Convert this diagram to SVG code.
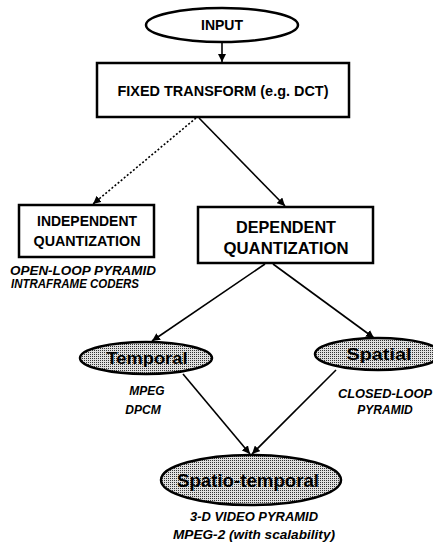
<svg xmlns="http://www.w3.org/2000/svg" width="433" height="548" viewBox="0 0 433 548">
<style>
.box{fill:#fff;stroke:#000;stroke-width:2.5}
.ell{stroke:#000;stroke-width:2.5}
.t{font-family:"Liberation Sans",Arial,sans-serif;font-weight:bold;fill:#000;text-anchor:middle}
.lab{font-family:"Liberation Sans",Arial,sans-serif;font-weight:bold;font-style:italic;font-size:12px;fill:#000;text-anchor:middle}
.c{stroke:#000;stroke-width:1.6;fill:none}
.d{stroke:#000;stroke-width:1.6;fill:none;stroke-dasharray:2 2}
</style>
<defs>
<pattern id="stip" width="2" height="2" patternUnits="userSpaceOnUse">
<rect width="2" height="2" fill="#e0e0e0"/>
<rect width="1" height="1" fill="#333"/>
</pattern>
<marker id="ah" viewBox="0 0 10 10" refX="10" refY="5" markerWidth="5" markerHeight="5" orient="auto" markerUnits="strokeWidth">
<path d="M0,0 L10,5 L0,10 z" fill="#000"/>
</marker>
</defs>
<g id="connectors">
<line class="c" x1="222" y1="42" x2="222" y2="62" marker-end="url(#ah)"/>
<line class="d" x1="196" y1="118" x2="93" y2="204" marker-end="url(#ah)"/>
<line class="c" x1="199" y1="118" x2="285" y2="206" marker-end="url(#ah)"/>
<line class="c" x1="265" y1="264" x2="152" y2="341" marker-end="url(#ah)"/>
<line class="c" x1="273" y1="264" x2="374" y2="338" marker-end="url(#ah)"/>
<line class="c" x1="183" y1="374" x2="250" y2="454" marker-end="url(#ah)"/>
<line class="c" x1="336" y1="370" x2="252" y2="454" marker-end="url(#ah)"/>
</g>
<g id="input">
<ellipse cx="222" cy="25" rx="76" ry="17" fill="#fff" class="ell"/>
<text class="t" x="222" y="30" font-size="14">INPUT</text>
</g>
<g id="fixed-transform">
<rect class="box" x="97" y="63" width="252" height="54"/>
<text class="t" x="223" y="96" font-size="14" textLength="211" lengthAdjust="spacingAndGlyphs">FIXED TRANSFORM (e.g. DCT)</text>
</g>
<g id="independent">
<rect class="box" x="19" y="205" width="135" height="52"/>
<text class="t" x="87" y="226" font-size="14" textLength="100" lengthAdjust="spacingAndGlyphs">INDEPENDENT</text>
<text class="t" x="87" y="246" font-size="14" textLength="107" lengthAdjust="spacingAndGlyphs">QUANTIZATION</text>
<text class="lab" x="83" y="275" textLength="146" lengthAdjust="spacingAndGlyphs">OPEN-LOOP PYRAMID</text>
<text class="lab" x="75" y="288" textLength="128" lengthAdjust="spacingAndGlyphs">INTRAFRAME CODERS</text>
</g>
<g id="dependent">
<rect class="box" x="198" y="207" width="175" height="56"/>
<text class="t" x="286" y="233" font-size="17" textLength="100" lengthAdjust="spacingAndGlyphs">DEPENDENT</text>
<text class="t" x="286" y="254" font-size="17" textLength="125" lengthAdjust="spacingAndGlyphs">QUANTIZATION</text>
</g>
<g id="temporal">
<ellipse cx="146" cy="358" rx="66" ry="16" fill="url(#stip)" class="ell"/>
<text class="t" x="147" y="364" font-size="17" textLength="81" lengthAdjust="spacingAndGlyphs">Temporal</text>
<text class="lab" x="147" y="395">MPEG</text>
<text class="lab" x="143" y="414">DPCM</text>
</g>
<g id="spatial">
<ellipse cx="378" cy="354" rx="63" ry="16" fill="url(#stip)" class="ell"/>
<text class="t" x="379" y="360" font-size="17" textLength="65" lengthAdjust="spacingAndGlyphs">Spatial</text>
<text class="lab" x="385" y="398" textLength="94" lengthAdjust="spacingAndGlyphs">CLOSED-LOOP</text>
<text class="lab" x="385" y="414">PYRAMID</text>
</g>
<g id="spatio-temporal">
<ellipse cx="251" cy="480" rx="90" ry="25" fill="url(#stip)" class="ell"/>
<text class="t" x="248" y="487" font-size="19" textLength="142" lengthAdjust="spacingAndGlyphs">Spatio-temporal</text>
<text class="lab" x="254" y="521" textLength="128" lengthAdjust="spacingAndGlyphs">3-D VIDEO PYRAMID</text>
<text class="lab" x="254" y="539" textLength="162" lengthAdjust="spacingAndGlyphs">MPEG-2 (with scalability)</text>
</g>
</svg>
